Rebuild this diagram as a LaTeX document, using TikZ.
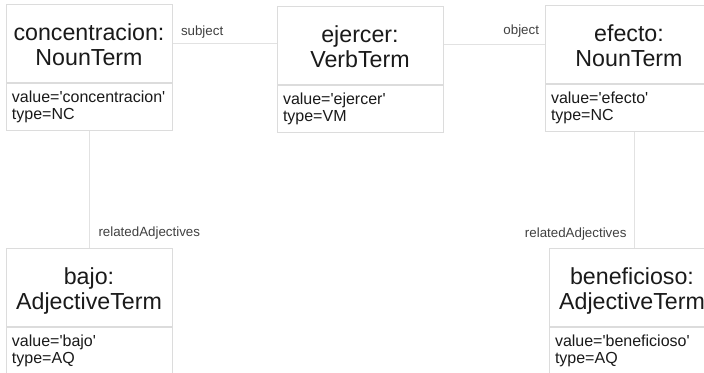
\documentclass[tikz,border=0pt]{standalone}
\usepackage{fontspec}
\setmainfont{Liberation Sans}
% a family without TeX ligature mapping keeps straight apostrophes
\newfontfamily\uifont{Liberation Sans}
\usetikzlibrary{calc}
\definecolor{boxline}{HTML}{DCDCDC}
\definecolor{linkline}{HTML}{E2E2E2}
\definecolor{ink}{HTML}{1A1A1A}
\definecolor{lblink}{HTML}{404040}
% one drawing unit = 0.75pt
\newlength{\px}\setlength{\px}{0.75pt}
% two-line class heading with fixed line metrics
\newcommand{\heading}[2]{\vrule height 24\px depth 0pt width 0pt\smash{#1}\\\smash{#2}\vrule height 0pt depth 5\px width 0pt}
% two-line attribute block with fixed line metrics
\newcommand{\attrs}[2]{\vrule height 19\px depth 0pt width 0pt#1\\#2\vrule height 0pt depth 11\px width 0pt}
\tikzset{
  titlebox/.style={draw=boxline, line width=1\px, fill=white, text=ink,
    minimum height=78\px, inner sep=0pt, align=center,
    font=\uifont\fontsize{17.4pt}{18.75pt}\selectfont},
  bodybox/.style={draw=boxline, line width=1\px, fill=white, text=ink,
    anchor=north, inner ysep=0pt, inner xsep=6\px, align=left,
    font=\uifont\fontsize{12pt}{12.75pt}\selectfont},
  link/.style={draw=linkline, line width=1\px},
  lbl/.style={text=lblink, inner sep=0pt, font=\uifont\fontsize{10pt}{12pt}\selectfont}
}
\begin{document}
\begin{tikzpicture}[x=1\px, y=-1\px]
\useasboundingbox (0,0) rectangle (704,372);

% upper row
\node[titlebox, minimum width=166\px] (conc) at (89,43) {\heading{concentracion:}{NounTerm}};
\node[bodybox, text width=154\px] (concb) at (conc.south) {\attrs{value='concentracion'}{type=NC}};

\node[titlebox, minimum width=166\px] (ejer) at (360,45) {\heading{ejercer:}{VerbTerm}};
\node[bodybox, text width=154\px] (ejerb) at (ejer.south) {\attrs{value='ejercer'}{type=VM}};

\node[titlebox, minimum width=168\px] (efec) at (629,44.5) {\heading{efecto:}{NounTerm}};
\node[bodybox, text width=156\px] (efecb) at (efec.south) {\attrs{value='efecto'}{type=NC}};

% lower row
\node[titlebox, minimum width=166\px] (bajo) at (89,287) {\heading{bajo:}{AdjectiveTerm}};
\node[bodybox, text width=154\px] (bajob) at (bajo.south) {\attrs{value='bajo'}{type=AQ}};

\node[titlebox, minimum width=166\px] (bene) at (632,287.5) {\heading{beneficioso:}{AdjectiveTerm}};
\node[bodybox, text width=154\px] (beneb) at (bene.south) {\attrs{value='beneficioso'}{type=AQ}};

% associations
\draw[link] (conc.east) -- (conc.east -| ejer.west)
  node[lbl, at start, anchor=base west, xshift=6pt, yshift=6pt] {subject};
\draw[link] (ejer.east |- efec.west) -- (efec.west)
  node[lbl, at end, anchor=base east, xshift=-3.75pt, yshift=7.5pt] {object};
\draw[link] (concb.south) -- (bajo.north)
  node[lbl, at end, anchor=base west, xshift=6.75pt, yshift=8.25pt] {relatedAdjectives};
\coordinate (efecfoot) at ($(efecb.south)+(5,0)$);
\draw[link] (efecfoot) -- (efecfoot |- bene.north)
  node[lbl, at end, anchor=base east, xshift=-5.25pt, yshift=8.25pt] {relatedAdjectives};
\end{tikzpicture}
\end{document}
